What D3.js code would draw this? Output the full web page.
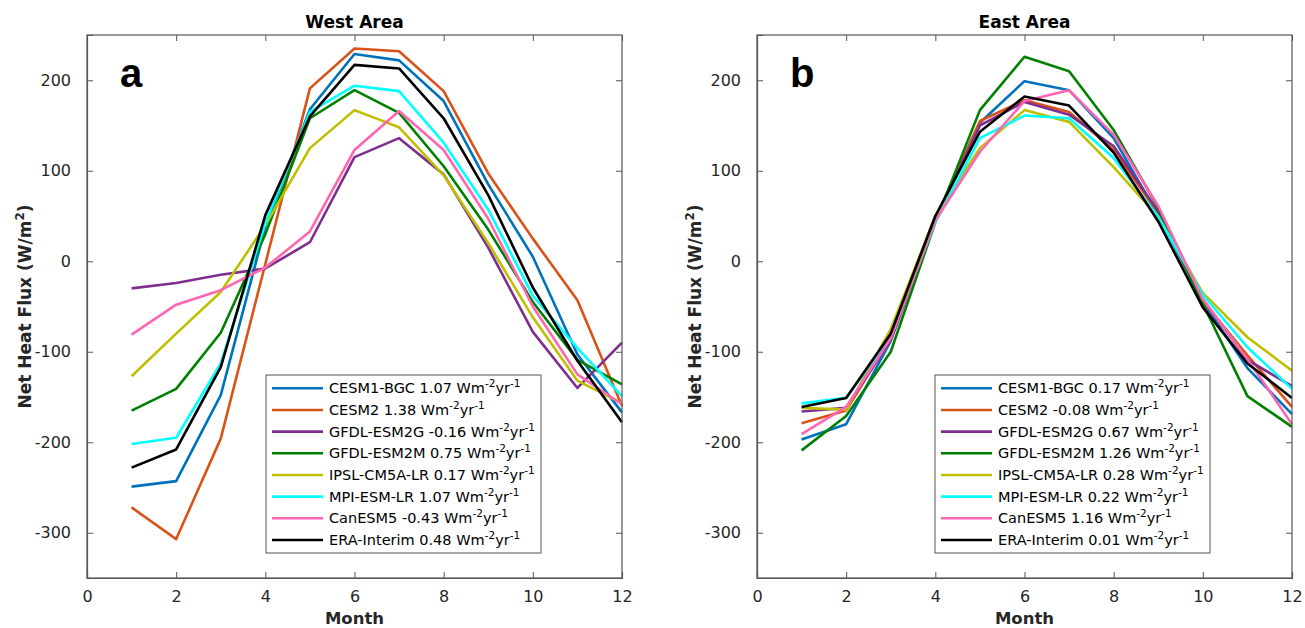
<!DOCTYPE html>
<html><head><meta charset="utf-8">
<script src="https://cdn.jsdelivr.net/npm/d3@7"></script>
<style>body{margin:0;background:#fff;} svg{display:block}</style>
</head><body>
<svg id="chart" width="1305" height="628"></svg>
<script>
// ---- data ----
const months = [1,2,3,4,5,6,7,8,9,10,11,12];
const models = ["CESM1-BGC","CESM2","GFDL-ESM2G","GFDL-ESM2M","IPSL-CM5A-LR","MPI-ESM-LR","CanESM5","ERA-Interim"];
const colors = ["#0072BD","#D95319","#7E2F8E","#008000","#BFBF00","#00FFFF","#FF66B2","#000000"];

const westCESM1BGC  = [-249,-243,-148, 38,168,229,222,177, 85,  5,-103,-167];
const westCESM2     = [-272,-307,-196, -3,191,235,232,188, 97, 25, -43,-160];
const westGFDLESM2G = [ -30, -24, -15, -8, 21,115,136, 96, 15,-78,-140, -90];
const westGFDLESM2M = [-165,-141, -79, 30,158,189,164,105, 35,-45,-109,-136];
const westIPSL      = [-127, -80, -34, 40,125,167,148, 95, 20,-62,-132,-157];
const westMPI       = [-202,-195,-113, 42,165,194,188,131, 57,-38, -96,-149];
const westCanESM5   = [ -81, -48, -32, -7, 33,123,166,123, 47,-50,-125,-158];
const westERA       = [-228,-208,-117, 51,160,217,213,158, 73,-29,-110,-178];

const eastCESM1BGC  = [-197,-180, -88, 47,153,199,189,136, 51,-45,-118,-169];
const eastCESM2     = [-179,-165, -85, 47,155,178,165,123, 53,-44,-104,-161];
const eastGFDLESM2G = [-166,-162, -87, 46,150,176,162,127, 55,-42,-109,-138];
const eastGFDLESM2M = [-209,-171,-100, 43,167,226,210,145, 59,-47,-149,-183];
const eastIPSL      = [-162,-164, -75, 50,125,167,154,104, 49,-35, -84,-121];
const eastMPI       = [-157,-151, -83, 43,136,161,158,114, 49,-37, -95,-141];
const eastCanESM5   = [-191,-161, -85, 45,121,177,189,140, 61,-42,-108,-180];
const eastERA       = [-161,-151, -80, 50,143,182,172,120, 44,-51,-113,-151];

const westTrends = ["1.07","1.38","-0.16","0.75","0.17","1.07","-0.43","0.48"];
const eastTrends = ["0.17","-0.08","0.67","1.26","0.28","0.22","1.16","0.01"];

const xTicks = [0,2,4,6,8,10,12];
const yTicks = [-300,-200,-100,0,100,200];

const westData = [westCESM1BGC,westCESM2,westGFDLESM2G,westGFDLESM2M,westIPSL,westMPI,westCanESM5,westERA];
const eastData = [eastCESM1BGC,eastCESM2,eastGFDLESM2G,eastGFDLESM2M,eastIPSL,eastMPI,eastCanESM5,eastERA];

// ---- drawing ----
const svg = d3.select("#chart");
const FONT = "'DejaVu Sans', sans-serif";
const plotTop = 35, plotBottom = 578, pw = 535;
const fmt = v => String(v).replace("\u2212","-");

function drawPanel(x0, title, letter, data, trends, legX) {
  const x = d3.scaleLinear().domain([0,12]).range([x0, x0+pw]);
  const y = d3.scaleLinear().domain([-350,250]).range([plotBottom, plotTop]);
  const g = svg.append("g");

  // lines
  const line = d3.line().x((d,i)=>x(months[i])).y(d=>y(d));
  data.forEach((s,k)=>{
    g.append("path").datum(s).attr("d", line)
      .attr("fill","none").attr("stroke",colors[k]).attr("stroke-width",2.6)
      .attr("stroke-linejoin","round");
  });

  // axes (ticks inward, box)
  const axCol = "#555555";
  const bottomAx = g.append("g").attr("transform",`translate(0,${plotBottom})`)
    .call(d3.axisBottom(x).tickValues(xTicks).tickSize(-6).tickPadding(13).tickFormat(fmt));
  const topAx = g.append("g").attr("transform",`translate(0,${plotTop})`)
    .call(d3.axisTop(x).tickValues(xTicks).tickSize(-6).tickFormat(""));
  const leftAx = g.append("g").attr("transform",`translate(${x0},0)`)
    .call(d3.axisLeft(y).tickValues(yTicks).tickSize(-6).tickPadding(16).tickFormat(fmt));
  const rightAx = g.append("g").attr("transform",`translate(${x0+pw},0)`)
    .call(d3.axisRight(y).tickValues(yTicks).tickSize(-6).tickFormat(""));
  [bottomAx,topAx,leftAx,rightAx].forEach(a=>{
    a.select(".domain").attr("stroke",axCol).attr("stroke-width",1.2);
    a.selectAll(".tick line").attr("stroke",axCol).attr("stroke-width",1);
    a.selectAll(".tick text").attr("font-family",FONT).attr("font-size",16).attr("fill","#262626");
  });
  [topAx,rightAx].forEach(a=>a.select(".domain").remove());
  g.append("rect").attr("x",x0).attr("y",plotTop).attr("width",pw).attr("height",plotBottom-plotTop)
    .attr("fill","none").attr("stroke",axCol).attr("stroke-width",1.2);

  // title
  g.append("text").attr("x",x(6)).attr("y",28).attr("text-anchor","middle")
    .attr("font-family",FONT).attr("font-weight","bold").attr("font-size",17).attr("fill","#000")
    .text(title);
  // x label
  g.append("text").attr("x",x(6)).attr("y",624).attr("text-anchor","middle")
    .attr("font-family",FONT).attr("font-weight","bold").attr("font-size",16.5).attr("fill","#262626")
    .text("Month");
  // y label
  const yl = g.append("text").attr("transform",`translate(${x0-56},${(plotTop+plotBottom)/2}) rotate(-90)`)
    .attr("text-anchor","middle").attr("font-family",FONT).attr("font-weight","bold")
    .attr("font-size",17).attr("fill","#262626");
  yl.append("tspan").text("Net Heat Flux (W/m");
  yl.append("tspan").attr("font-size",12).attr("dy",-7).text("2");
  yl.append("tspan").attr("dy",7).text(")");

  // panel letter
  g.append("text").attr("x",x0+33).attr("y",87).attr("font-family","'Liberation Sans', Arial, sans-serif")
    .attr("font-weight","bold").attr("font-size",40).attr("fill","#000").text(letter);

  // legend
  const lw = 275, lh = 178, ly = 375;
  g.append("rect").attr("x",legX).attr("y",ly).attr("width",lw).attr("height",lh)
    .attr("fill","#fff").attr("stroke",axCol).attr("stroke-width",1);
  models.forEach((m,k)=>{
    const cy = 388.3 + k*21.67;
    g.append("line").attr("x1",legX+6).attr("x2",legX+57).attr("y1",cy).attr("y2",cy)
      .attr("stroke",colors[k]).attr("stroke-width",2.6);
    const t = g.append("text").attr("x",legX+63).attr("y",cy+5)
      .attr("font-family",FONT).attr("font-size",14.5).attr("fill","#000");
    t.append("tspan").text(`${m} ${trends[k]} Wm`);
    t.append("tspan").attr("font-size",10.5).attr("dy",-6).text("-2");
    t.append("tspan").attr("dy",6).text("yr");
    t.append("tspan").attr("font-size",10.5).attr("dy",-6).text("-1");
  });
}

drawPanel(87, "West Area", "a", westData, westTrends, 266);
drawPanel(757, "East Area", "b", eastData, eastTrends, 935);
</script>
</body></html>
